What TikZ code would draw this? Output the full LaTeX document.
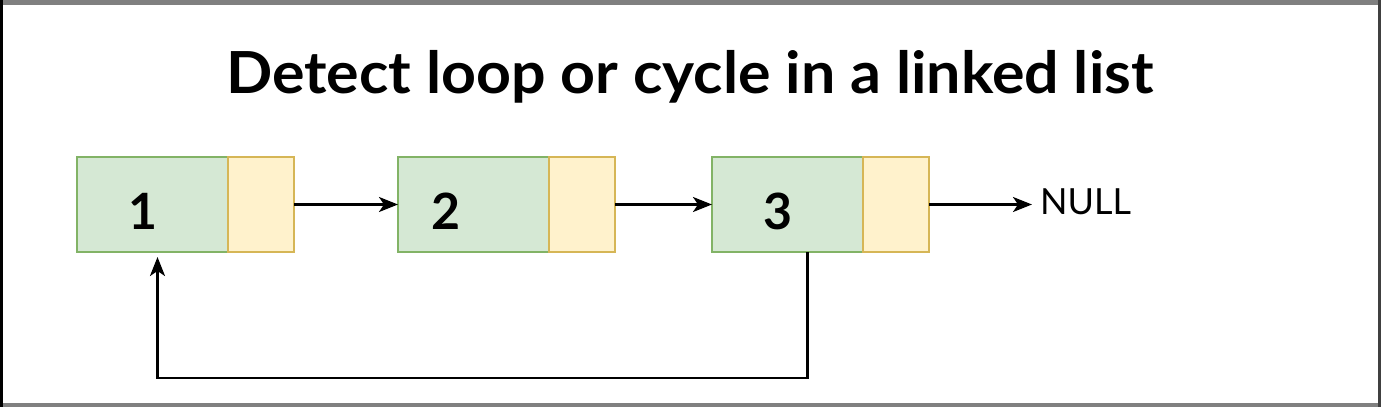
\documentclass[tikz,border=0pt]{standalone}
\usepackage{fontspec}
\setmainfont{Lato}
\usetikzlibrary{arrows.meta,positioning,calc}
\definecolor{datafill}{HTML}{D5E8D4}
\definecolor{dataline}{HTML}{82B366}
\definecolor{nextfill}{HTML}{FFF2CC}
\definecolor{nextline}{HTML}{D6B656}
\definecolor{framegray}{HTML}{808080}
\tikzset{
    data/.style={
        draw=dataline,
        fill=datafill,
        line width=2.2pt,
        rectangle,
        outer sep=0pt,
        minimum height=95pt,
        minimum width=151pt
    },
    pointer/.style={
        draw=nextline,
        fill=nextfill,
        line width=2.2pt,
        rectangle,
        outer sep=0pt,
        minimum height=95pt,
        minimum width=66pt
    },
    digit/.style={
        font=\fontsize{50}{50}\selectfont\bfseries,
        inner sep=0pt
    },
    heading/.style={
        font=\fontsize{58}{58}\selectfont\bfseries\addfontfeatures{FakeStretch=1.05},
        inner sep=0pt
    },
    nulltext/.style={
        font=\fontsize{36}{36}\selectfont,
        inner xsep=8pt,
        inner ysep=0pt
    },
    link/.style={
        ->,
        line width=2.5pt
    },
}

\begin{document}
\begin{tikzpicture}[x=1pt, y=-1pt, >={Stealth[length=19pt,width=15pt,inset=5pt]}]
    % frame
    \fill[white] (0,0) rectangle (1381,407);
    \fill[framegray] (0,0) rectangle (1381,5);
    \fill[framegray] (0,403) rectangle (1381,407);
    \fill[black!75] (1378,0) rectangle (1381,407);
    \fill[black] (0,0) rectangle (2.5,407);

    % title
    \node[heading, anchor=base] (title) at (690,93) {Detect loop or cycle in a linked list};

    % blocks
    \node[data] (g1) at (152.5,204.5) {};
    \node[pointer, right=0pt of g1] (y1) {};
    \node[data, right=104pt of y1] (g2) {};
    \node[pointer, right=0pt of g2] (y2) {};
    \node[data, right=97pt of y2] (g3) {};
    \node[pointer, right=0pt of g3] (y3) {};
    \node[nulltext, right=103pt of y3, yshift=2.5pt] (null) {NULL};

    % values
    \node[digit] (d1) at ($(g1.center)+(-9.5,7)$) {1};
    \node[digit] (d2) at ($(g2.center)+(-27.5,7)$) {2};
    \node[digit] (d3) at ($(g3.center)+(-9.5,7)$) {3};

    % lines
    \draw[link] (y1) -- (g2);
    \draw[link] (y2) -- (g3);
    \draw[link] (y3.east) -- (y3.east -| null.west);
    \draw[link] ([xshift=20pt]g3.south) -- ++(0,126) -| ([xshift=5pt,yshift=-5pt]g1.south);
\end{tikzpicture}
\end{document}
